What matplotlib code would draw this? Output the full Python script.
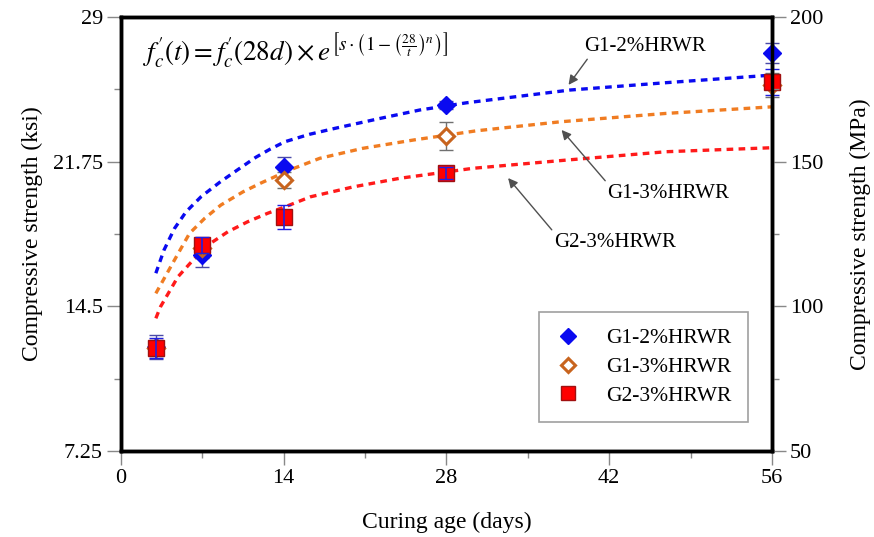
import numpy as np
import matplotlib
matplotlib.use("Agg")
import matplotlib.pyplot as plt
from matplotlib.ticker import MultipleLocator

plt.rcParams["font.family"] = ["Liberation Serif", "DejaVu Serif"]
plt.rcParams["mathtext.fontset"] = "stix"

# measured points (ksi)
dias = [3, 7, 14, 28, 56]
g1_2 = [12.45, 17.07, 21.47, 24.59, 27.21]
g1_2_err = [0.6, 0.6, 0.5, 0.2, 0.5]
g1_3 = [12.4, 17.4, 20.83, 23.04, 25.6]
g1_3_err = [0.4, 0.5, 0.4, 0.7, 0.6]
g2_3 = [12.4, 17.57, 18.96, 21.17, 25.76]
g2_3_err = [0.5, 0.4, 0.6, 0.3, 0.65]

# fitted curves
t_g1_2 = [3, 3.7, 4.6, 5.6, 6.9, 8.5, 10, 11.6, 12.8, 14.1, 16.2, 18.4, 22.3, 25.7, 29.7, 38.6, 46.9, 56]
f_g1_2 = [16.16, 17.32, 18.4, 19.24, 20.0, 20.72, 21.33, 21.97, 22.37, 22.75, 23.12, 23.42, 23.92, 24.34, 24.70, 25.34, 25.71, 26.09]
t_g1_3 = [3, 4.6, 5.9, 7.2, 8.6, 10.5, 12, 14.5, 17.1, 20.8, 25.2, 30.6, 37.8, 46.9, 56]
f_g1_3 = [15.15, 16.82, 18.16, 18.91, 19.58, 20.24, 20.67, 21.33, 21.92, 22.42, 22.84, 23.30, 23.75, 24.17, 24.50]
t_g2_3 = [3, 3.4, 4.9, 6.2, 7.6, 9.2, 10.9, 12.6, 14.3, 16.3, 20, 24, 30.3, 38.3, 46.9, 56]
f_g2_3 = [13.9, 14.48, 15.98, 16.82, 17.62, 18.24, 18.74, 19.16, 19.53, 19.99, 20.49, 20.92, 21.42, 21.83, 22.25, 22.45]

AZUL = "#0a0af0"
LARANJA = "#f07c22"
VERMELHO = "#ff1a1a"

fig = plt.figure(figsize=(8.74, 5.37), dpi=100)
ax = fig.add_axes([0.1384, 0.1601, 0.7449, 0.8082])

dash = (2.0, 1.6)
ax.plot(t_g1_2, f_g1_2, color=AZUL, lw=2.4, dashes=dash, zorder=2)
ax.plot(t_g1_3, f_g1_3, color=LARANJA, lw=2.4, dashes=dash, zorder=2)
ax.plot(t_g2_3, f_g2_3, color=VERMELHO, lw=2.4, dashes=dash, zorder=2)

eb1 = ax.errorbar(dias, g1_2, yerr=g1_2_err, fmt="none", ecolor="#4a4aa8", elinewidth=1, capsize=5, zorder=3)
eb2 = ax.errorbar(dias, g1_3, yerr=g1_3_err, fmt="none", ecolor="#707070", elinewidth=1, capsize=5, zorder=3)
eb3 = ax.errorbar(dias, g2_3, yerr=g2_3_err, fmt="none", ecolor="#2020e0", elinewidth=1.2, capsize=5, zorder=5)
for eb in (eb1, eb2, eb3):
    for art in eb.get_children():
        art.set_clip_on(False)

ax.plot(dias, g1_2, "D", color=AZUL, ms=9, mec=AZUL, ls="none", label="G1-2%HRWR", zorder=4, clip_on=False)
ax.plot(dias, g1_3, "D", mfc="white", mec="#c8641e", mew=2.2, ms=8, ls="none", label="G1-3%HRWR", zorder=4, clip_on=False)
ax.plot(dias, g2_3, "s", mfc="#ff0000", mec="#a01010", ms=11, ls="none", label="G2-3%HRWR", zorder=4.5, clip_on=False)

ax.set_xlim(0, 56)
ax.set_ylim(7.25, 29)
ax.xaxis.set_major_locator(MultipleLocator(14))
ax.xaxis.set_minor_locator(MultipleLocator(7))
ax.set_yticks([7.25, 14.5, 21.75, 29])
ax.set_yticklabels(["7.25", "14.5", "21.75", "29"])
ax.yaxis.set_minor_locator(MultipleLocator(3.625))
ax.tick_params(which="major", direction="out", length=10, width=1, color="#888888", labelsize=16, pad=3)
ax.tick_params(which="minor", direction="out", length=5, width=1, color="#888888")
ax.set_xlabel("Curing age (days)", fontsize=17, labelpad=17)
ax.set_ylabel("Compressive strength (ksi)", fontsize=17, labelpad=7)

ax2 = ax.twinx()
ax2.set_ylim(50, 200)
ax2.set_yticks([50, 100, 150, 200])
ax2.yaxis.set_minor_locator(MultipleLocator(25))
ax2.tick_params(which="major", direction="out", length=10, width=1, color="#888888", labelsize=16, pad=3)
ax2.tick_params(which="minor", direction="out", length=5, width=1, color="#888888")
ax2.set_ylabel("Compressive strength (MPa)", fontsize=17, labelpad=19)

for a in (ax, ax2):
    for s in a.spines.values():
        s.set_linewidth(2.5)
        s.set_color("black")

ax.text(0.034, 0.922,
        r"$f_c'(t) = f_c'(28d) \times e^{\left[s\cdot\left(1-\left(\frac{28}{t}\right)^n\right)\right]}$",
        transform=ax.transAxes, fontsize=19.5, va="center", ha="left")

seta = dict(arrowstyle="-|>", color="#505050", lw=1, mutation_scale=14, shrinkA=0, shrinkB=0)
ax.annotate("G1-2%HRWR", xy=(38.5, 25.6), xytext=(45.1, 27.5), fontsize=15,
            ha="center", va="center", arrowprops=dict(seta, relpos=(0.04, 0.0)))
ax.annotate("G1-3%HRWR", xy=(37.9, 23.34), xytext=(47.1, 20.18), fontsize=15,
            ha="center", va="center", arrowprops=dict(seta, relpos=(0.0, 1.0)))
ax.annotate("G2-3%HRWR", xy=(33.3, 20.93), xytext=(42.5, 17.72), fontsize=15,
            ha="center", va="center", arrowprops=dict(seta, relpos=(0.0, 1.0)))

leg = ax.legend(loc="lower right", bbox_to_anchor=(0.963, 0.067), borderaxespad=0,
                fontsize=15.5, frameon=True, fancybox=False, edgecolor="#888888",
                handletextpad=1.2, borderpad=0.75, labelspacing=0.4, handlelength=1.2,
                markerscale=0.9)
leg.get_frame().set_linewidth(1.2)
leg.set_zorder(10)

plt.savefig("out.png", dpi=100)
plt.close()
